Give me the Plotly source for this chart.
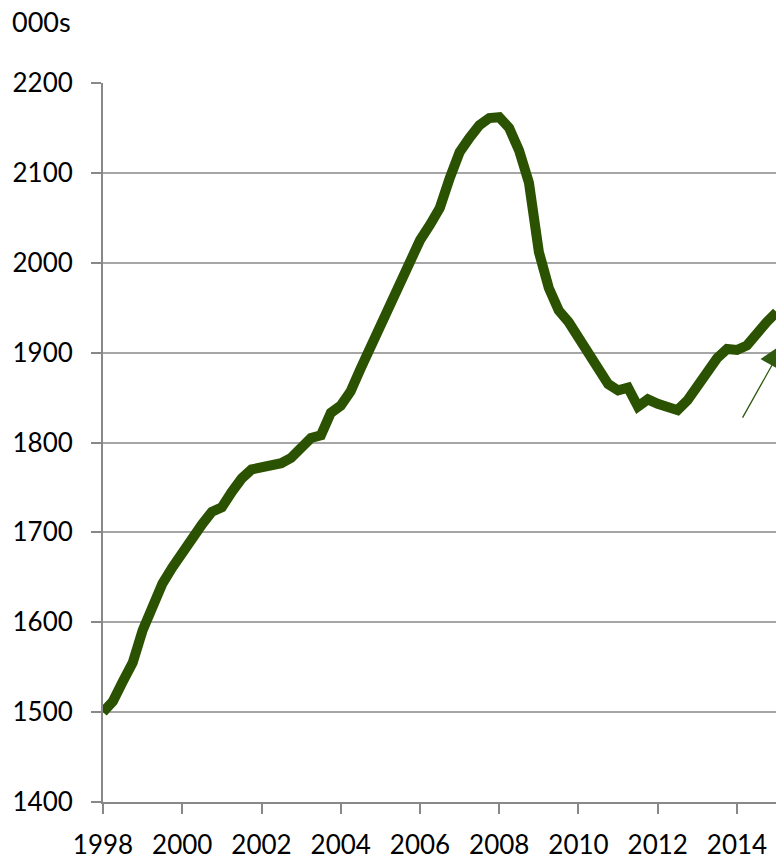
import plotly.graph_objects as go

# Quarterly series, 1998 Q1 .. 2015 Q1 (thousands)
start_year = 1998
values = [
    1500, 1512, 1534, 1555, 1591, 1620, 1643, 1661,
    1677, 1696, 1709, 1723, 1728, 1745, 1760, 1770,
    1773, 1775, 1777, 1783, 1795, 1805, 1808, 1833,
    1841, 1857, 1882, 1906, 1927, 1953, 1979, 2005,
    2025, 2042, 2061, 2094, 2123, 2139, 2153, 2161,
    2162, 2150, 2125, 2089, 2012, 1972, 1947, 1934,
    1916, 1900, 1883, 1865, 1858, 1861, 1840, 1848,
    1843, 1839, 1836, 1847, 1862, 1877, 1894, 1904,
    1903, 1908, 1922, 1934, 1945,
]
x_years = [start_year + i / 4 for i in range(len(values))]

tick_years = [1998, 2000, 2002, 2004, 2006, 2008, 2010, 2012, 2014]
y_ticks = [1400, 1500, 1600, 1700, 1800, 1900, 2000, 2100, 2200]
unit_label = "000s"

line_color = "#2B5200"
grid_color = "#A6A6A6"
axis_color = "#888888"
font_family = "Lato, Carlito, Calibri, sans-serif"

fig = go.Figure()
fig.add_trace(go.Scatter(
    x=x_years, y=values, mode="lines",
    line=dict(color=line_color, width=10),
    hoverinfo="skip", showlegend=False,
))

fig.add_annotation(
    x=2015.2, y=1911, xref="x", yref="y",
    ax=2014.12, ay=1826, axref="x", ayref="y",
    text="", showarrow=True,
    arrowhead=2, arrowsize=4, arrowwidth=1.3,
    arrowcolor="#2F5A10",
)

fig.add_annotation(
    x=-0.138, y=1.085, xref="paper", yref="paper",
    xanchor="left", yanchor="middle",
    text=unit_label, showarrow=False,
    font=dict(family=font_family, size=27, color="black"),
)

fig.update_layout(
    width=784, height=860,
    margin=dict(l=95, r=14, t=75, b=66, autoexpand=False),
    paper_bgcolor="white", plot_bgcolor="white",
    font=dict(family=font_family, size=26, color="black"),
    showlegend=False,
)
fig.update_xaxes(
    range=[1998, 2015.035],
    tickvals=tick_years, ticktext=[str(t) for t in tick_years],
    showgrid=False, zeroline=False,
    showline=True, linecolor=axis_color, linewidth=2,
    ticks="outside", ticklen=10, tickwidth=2, tickcolor=axis_color,
    tickfont=dict(family=font_family, size=26, color="black"),
    ticklabelstandoff=9, automargin=False,
)
fig.update_yaxes(
    range=[1400, 2200],
    tickvals=y_ticks,
    showgrid=True, gridcolor=grid_color, gridwidth=2,
    zeroline=False,
    showline=True, linecolor=axis_color, linewidth=2,
    ticks="outside", ticklen=10, tickwidth=2, tickcolor=axis_color,
    tickfont=dict(family=font_family, size=26, color="black"),
    ticklabelstandoff=13, automargin=False,
)

fig.write_html("out.html")
